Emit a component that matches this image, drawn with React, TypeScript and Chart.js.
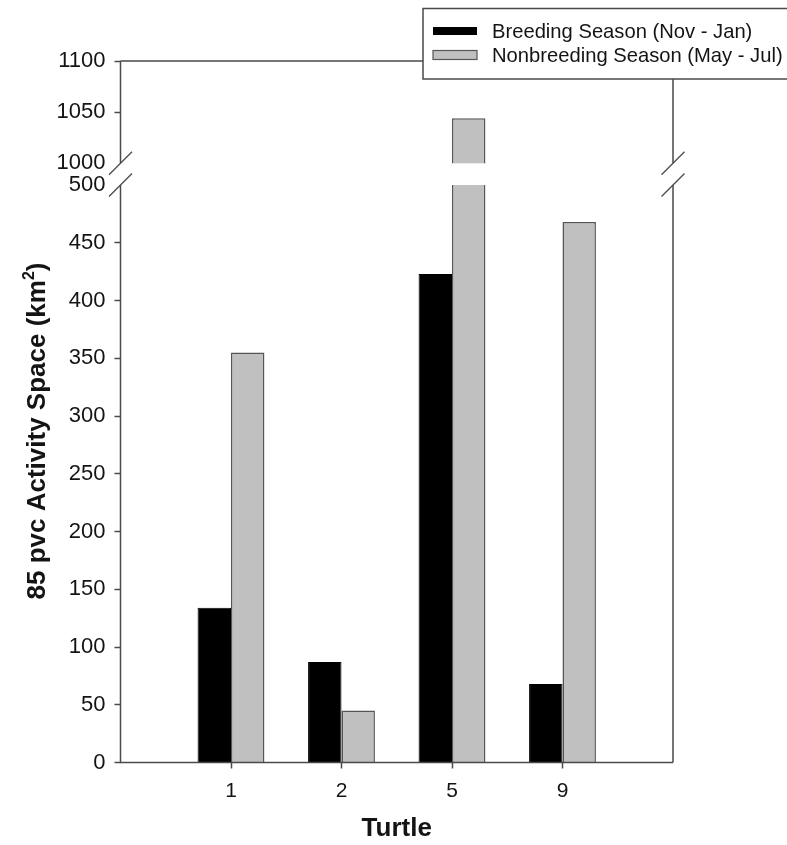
import React, { useEffect, useRef } from 'react';
import { Chart, registerables } from 'chart.js';

Chart.register(...registerables);

// ---- data ----
const categories = ['1', '2', '5', '9'];
const breeding = [134, 87, 423, 68];
const nonbreeding = [355, 45, 1044, 468];
const seriesLabels = ['Breeding Season (Nov - Jan)', 'Nonbreeding Season (May - Jul)'];
const lowerTickStep = 50;
const lowerMax = 500;
const upperTicks = [1000, 1050, 1100];
const upperBreak = 1000;
const upperMax = 1100;
const xTitle = 'Turtle';
const yTitleMain = '85 pvc Activity Space (km';
const yTitleSup = '2';
const yTitleEnd = ')';

// ---- styles ----
const FONT = '"Liberation Sans", Arial, sans-serif';
const AXIS = '#4a4a4a';
const TEXT = '#141414';
const GRAY = '#c0c0c0';
const GRAY_BORDER = '#555555';
const upperScaleMin = 978.8; // leaves the gap between the two segments

const clipPlugin = {
  id: 'segmentClip',
  beforeDatasetDraw(chart: any, args: any) {
    const meta = chart.getDatasetMeta(args.index);
    const ys = chart.scales[meta.yAxisID];
    const { left, right } = chart.chartArea;
    const ctx = chart.ctx;
    ctx.save();
    ctx.beginPath();
    ctx.rect(left - 5, ys.top, right - left + 10, ys.bottom - ys.top);
    ctx.clip();
  },
  afterDatasetDraw(chart: any) {
    chart.ctx.restore();
  },
};

const framePlugin = {
  id: 'brokenFrame',
  afterDatasetsDraw(chart: any) {
    const ctx = chart.ctx;
    const { left, right } = chart.chartArea;
    const yl = chart.scales.y;
    const yu = chart.scales.y2;
    const top = yu.getPixelForValue(upperMax);
    const brkU = yu.getPixelForValue(upperBreak);
    const brkL = yl.getPixelForValue(lowerMax);
    const bottom = yl.getPixelForValue(0);
    ctx.save();
    ctx.fillStyle = '#ffffff';
    ctx.fillRect(left + 1, brkU, right - left - 2, brkL - brkU);
    ctx.strokeStyle = AXIS;
    ctx.lineWidth = 1.5;
    ctx.beginPath();
    ctx.moveTo(left, top); ctx.lineTo(right, top);
    ctx.moveTo(left, bottom); ctx.lineTo(right, bottom);
    for (const x of [left, right]) {
      ctx.moveTo(x, top); ctx.lineTo(x, brkU);
      ctx.moveTo(x, brkL); ctx.lineTo(x, bottom);
    }
    ctx.stroke();
    ctx.lineWidth = 1.3;
    ctx.beginPath();
    for (const x of [left, right]) {
      for (const yc of [brkU, brkL]) {
        ctx.moveTo(x - 11.5, yc + 11.5);
        ctx.lineTo(x + 11.5, yc - 11.5);
      }
    }
    ctx.stroke();
    ctx.restore();
  },
  afterDraw(chart: any) {
    const ctx = chart.ctx;
    // y title
    ctx.save();
    const cy = 431;
    ctx.translate(36, cy);
    ctx.rotate(-Math.PI / 2);
    const mainFont = `bold 26px ${FONT}`;
    const supFont = `bold 16px ${FONT}`;
    ctx.font = mainFont;
    const w1 = ctx.measureText(yTitleMain).width;
    const w3 = ctx.measureText(yTitleEnd).width;
    ctx.font = supFont;
    const w2 = ctx.measureText(yTitleSup).width;
    const total = w1 + w2 + w3;
    let x = -total / 2;
    ctx.fillStyle = TEXT;
    ctx.textBaseline = 'alphabetic';
    ctx.textAlign = 'left';
    ctx.font = mainFont;
    ctx.fillText(yTitleMain, x, 9);
    x += w1;
    ctx.font = supFont;
    ctx.fillText(yTitleSup, x, -2);
    x += w2;
    ctx.font = mainFont;
    ctx.fillText(yTitleEnd, x, 9);
    ctx.restore();

    // legend
    ctx.save();
    const bx = 423, by = 8.5, bh = 70.5;
    ctx.fillStyle = '#ffffff';
    ctx.fillRect(bx, by, 400, bh);
    ctx.strokeStyle = AXIS;
    ctx.lineWidth = 1.5;
    ctx.strokeRect(bx, by, 400, bh);
    const rows = [31, 55];
    ctx.font = `20.2px ${FONT}`;
    ctx.textBaseline = 'middle';
    ctx.textAlign = 'left';
    seriesLabels.forEach((lab, i) => {
      const ry = rows[i];
      if (i === 0) {
        ctx.fillStyle = '#000000';
        ctx.fillRect(433, ry - 4, 44, 8);
      } else {
        ctx.fillStyle = GRAY;
        ctx.fillRect(433, ry - 4.5, 44, 9);
        ctx.strokeStyle = GRAY_BORDER;
        ctx.lineWidth = 1.2;
        ctx.strokeRect(433, ry - 4.5, 44, 9);
      }
      ctx.fillStyle = TEXT;
      ctx.fillText(lab, 492, ry + 1);
    });
    ctx.restore();
  },
};

export default function App() {
  const ref = useRef<HTMLCanvasElement | null>(null);

  useEffect(() => {
    if (!ref.current) return;
    const pts = (arr: (number | null)[]) => arr.map((v, i) => ({ x: i + 1, y: v }));
    const chart = new Chart(ref.current, {
      type: 'bar',
      data: {
        datasets: [
          {
            label: seriesLabels[0],
            data: pts(breeding) as any,
            yAxisID: 'y',
            stack: 'b',
            backgroundColor: '#000000',
            borderColor: '#000000',
            borderWidth: 1,
          },
          {
            label: seriesLabels[1],
            data: pts(nonbreeding) as any,
            yAxisID: 'y',
            stack: 'g',
            backgroundColor: GRAY,
            borderColor: GRAY_BORDER,
            borderWidth: 1.5,
          },
          {
            label: seriesLabels[1] + ' (upper)',
            data: pts(nonbreeding.map((v) => (v > upperBreak ? v : null))) as any,
            yAxisID: 'y2',
            stack: 'g',
            backgroundColor: GRAY,
            borderColor: GRAY_BORDER,
            borderWidth: 1.5,
          },
        ],
      },
      options: {
        responsive: false,
        animation: false,
        categoryPercentage: 0.605,
        barPercentage: 1.0,
        layout: { padding: { top: 61, right: 114, left: 0, bottom: 0 } },
        plugins: { legend: { display: false }, tooltip: { enabled: false } },
        scales: {
          x: {
            type: 'linear',
            min: 0,
            max: categories.length + 1,
            offset: false,
            afterFit: (s: any) => { s.height = 82.5; },
            afterBuildTicks: (s: any) => {
              s.ticks = categories.map((_, i) => ({ value: i + 1 }));
            },
            ticks: {
              callback: (v: any) => categories[Number(v) - 1] ?? '',
              font: { family: FONT, size: 21 },
              color: TEXT,
              padding: 10,
              maxRotation: 0,
            },
            grid: { display: true, offset: false, drawOnChartArea: false, drawTicks: true, tickLength: 6, tickColor: AXIS, tickWidth: 1.5 },
            border: { display: false },
            title: {
              display: true,
              text: xTitle,
              font: { family: FONT, size: 26, weight: 'bold' },
              color: TEXT,
              padding: { top: 0, bottom: 1 },
            },
          },
          y: {
            type: 'linear',
            position: 'left',
            stack: 'v',
            stackWeight: 577.5,
            stacked: false,
            min: 0,
            max: lowerMax,
            afterFit: (s: any) => { s.width = 120.5; },
            ticks: {
              stepSize: lowerTickStep,
              callback: (v: any) => String(v),
              font: { family: FONT, size: 22 },
              color: TEXT,
              padding: 9,
            },
            grid: {
              display: true,
              drawOnChartArea: false,
              drawTicks: true,
              tickLength: 6,
              tickWidth: 1.5,
              tickColor: (c: any) => (c.tick && c.tick.value === lowerMax ? 'rgba(0,0,0,0)' : AXIS),
            },
            border: { display: false },
          },
          y2: {
            type: 'linear',
            position: 'left',
            stack: 'v',
            stackWeight: 124,
            stacked: false,
            offset: false,
            min: upperScaleMin,
            max: upperMax,
            afterFit: (s: any) => { s.width = 120.5; },
            afterBuildTicks: (s: any) => {
              s.ticks = upperTicks.map((v) => ({ value: v }));
            },
            ticks: {
              callback: (v: any) => String(v),
              font: { family: FONT, size: 22 },
              color: TEXT,
              padding: 9,
            },
            grid: {
              display: true,
              drawOnChartArea: false,
              drawTicks: true,
              tickLength: 6,
              tickWidth: 1.5,
              tickColor: (c: any) => (c.tick && c.tick.value === upperBreak ? 'rgba(0,0,0,0)' : AXIS),
            },
            border: { display: false },
          },
        } as any,
      },
      plugins: [clipPlugin, framePlugin],
    });
    return () => chart.destroy();
  }, []);

  return (
    <div style={{ position: 'fixed', left: 0, top: 0, width: 787, height: 845, background: '#fff' }}>
      <canvas ref={ref} width={787} height={845} style={{ display: 'block', width: 787, height: 845 }} />
    </div>
  );
}
